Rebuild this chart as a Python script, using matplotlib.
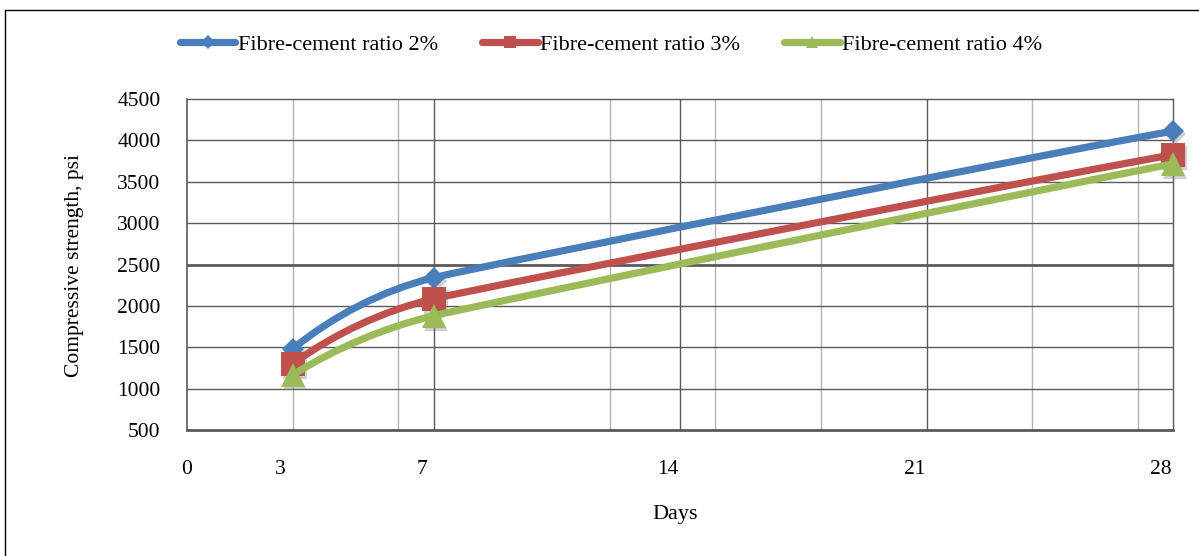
import matplotlib
matplotlib.use("Agg")
import matplotlib.pyplot as plt
from matplotlib.path import Path
from matplotlib.patches import PathPatch, Rectangle
from matplotlib.lines import Line2D
from matplotlib.transforms import ScaledTranslation, blended_transform_factory
import numpy as np

days = [3, 7, 28]
ratio_2 = [1480, 2340, 4110]
ratio_3 = [1300, 2085, 3825]
ratio_4 = [1165, 1880, 3715]

series_names = ["Fibre-cement ratio 2%", "Fibre-cement ratio 3%", "Fibre-cement ratio 4%"]
colors = ["#4A7EBB", "#C0504D", "#9BBB59"]
markers = ["D", "s", "^"]
msizes = [11.5, 17, 17]

day_ticks = [0, 3, 7, 14, 21, 28]
day_labels = ["0", "3", "7", "14", "21", "28"]
light_days = [3, 6, 12, 15, 18, 24, 27]
dark_days = [7, 14, 21]
y_ticks = [500, 1000, 1500, 2000, 2500, 3000, 3500, 4000, 4500]

plt.rcParams["font.family"] = ["Liberation Serif", "DejaVu Serif"]


def unit(v):
    return v / np.hypot(v[0], v[1])


def smooth_path(ax, xs, ys):
    # smoothed line: cubic beziers built in screen space. Tangents at inner
    # points follow the neighbour chord, end tangents are mirrored off the
    # chord, handles are a third of the shortest neighbouring segment.
    pts = ax.transData.transform(np.column_stack([xs, ys]))
    n = len(pts)
    seg = [np.hypot(*(pts[i + 1] - pts[i])) for i in range(n - 1)]
    tang = [None] * n
    for i in range(1, n - 1):
        tang[i] = unit(pts[i + 1] - pts[i - 1])
    tang[0] = unit(2 * unit(pts[1] - pts[0]) - tang[1])
    tang[-1] = unit(2 * unit(pts[-1] - pts[-2]) - tang[-2])
    verts = [pts[0]]
    codes = [Path.MOVETO]
    for i in range(n - 1):
        h = min(seg[max(i - 1, 0):i + 2]) / 3
        verts += [pts[i] + tang[i] * h, pts[i + 1] - tang[i + 1] * h, pts[i + 1]]
        codes += [Path.CURVE4] * 3
    verts = ax.transData.inverted().transform(np.array(verts))
    return Path(verts, codes)


fig = plt.figure(figsize=(11.99, 5.56), dpi=100)
ax = fig.add_axes([187 / 1199, 1 - 430 / 556, 986 / 1199, 331 / 556])

ax.set_xlim(0, 28)
ax.set_ylim(500, 4500)

# grid
for d in light_days:
    ax.axvline(d, color="#B4B4B4", lw=1.0, zorder=1)
for d in dark_days:
    ax.axvline(d, color="#5A5A5A", lw=1.0, zorder=1)
for v in y_ticks[1:-1]:
    ax.axhline(v, color="#5A5A5A", lw=2.0 if v == 2500 else 1.0, zorder=1)

for side in ["top", "right"]:
    ax.spines[side].set_color("#5A5A5A")
    ax.spines[side].set_linewidth(1.0)
ax.spines["left"].set_color("#5A5A5A")
ax.spines["left"].set_linewidth(1.2)
ax.spines["bottom"].set_color("#5A5A5A")
ax.spines["bottom"].set_linewidth(2.0)

ax.set_yticks(y_ticks)
ax.set_yticklabels([str(v) for v in y_ticks], fontsize=15.5)
ax.tick_params(axis="y", length=0, pad=19)
ax.set_xticks([])

# day labels sit a little left of their gridlines
trans = blended_transform_factory(ax.transData, ax.transAxes)
for d, lab in zip(day_ticks, day_labels):
    off = 0 if d == 0 else -12 / 100
    ax.text(d, -0.118, lab, fontsize=15.5, ha="center", va="center",
            transform=trans + ScaledTranslation(off, 0, fig.dpi_scale_trans))

ax.set_xlabel("Days", fontsize=16)
ax.xaxis.label.set_va("center")
ax.xaxis.set_label_coords((675 - 187) / 986, -(515 - 430) / 331)
ax.set_ylabel("Compressive strength, psi", fontsize=15.5)
ax.yaxis.label.set_va("center")
ax.yaxis.set_label_coords((75 - 187) / 986, (430 - 265.5) / 331)

shadow = ax.transData + ScaledTranslation(2 / 100, -3 / 100, fig.dpi_scale_trans)
all_series = [ratio_2, ratio_3, ratio_4]
for i, vals in enumerate(all_series):
    patch = PathPatch(smooth_path(ax, days, vals), facecolor="none", edgecolor=colors[i],
                      lw=5.2, capstyle="round", joinstyle="round", zorder=3 + i)
    ax.add_patch(patch)
    ax.plot(days, vals, linestyle="none", marker=markers[i], ms=msizes[i],
            color="#777777", alpha=0.35, mew=0, transform=shadow, zorder=3 + i, clip_on=False)
    ax.plot(days, vals, linestyle="none", marker=markers[i], ms=msizes[i],
            color=colors[i], mew=0, zorder=3.5 + i, clip_on=False)

handles = [Line2D([], [], color=colors[i], lw=5.2, marker=markers[i],
                  ms=7 if markers[i] == "D" else 9, mew=0, solid_capstyle="round")
           for i in range(3)]
fig.legend(handles, series_names, loc="center", bbox_to_anchor=(611 / 1199, 1 - 45 / 556),
           ncol=3, frameon=False, fontsize=16, handlelength=2.5, handletextpad=0.1,
           columnspacing=2.0)

# outer frame
fig.patches.append(Rectangle((5 / 1199, -0.1), 1.2, 1.1 - 10 / 556,
                             transform=fig.transFigure, fill=False, ec="black", lw=1.0))

fig.savefig("out.png", dpi=100)
